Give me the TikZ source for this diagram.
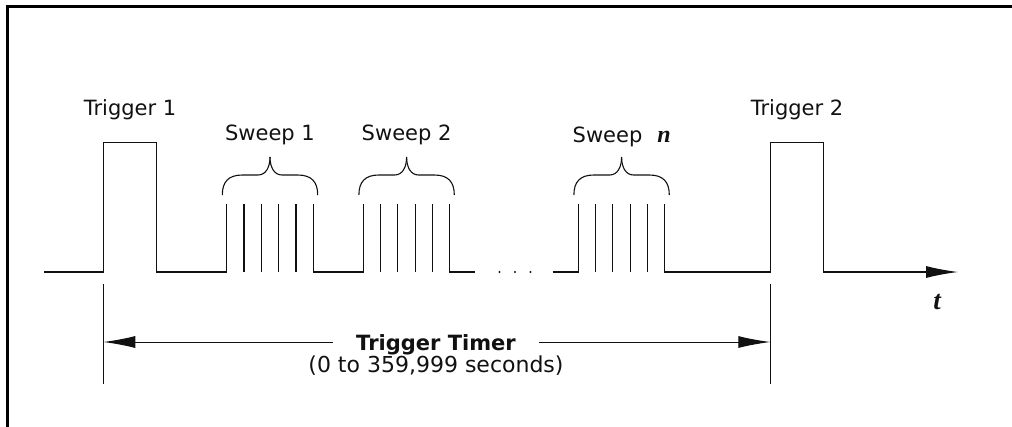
\documentclass[tikz,border=0pt]{standalone}
\usepackage{fontspec}
\setmainfont{DejaVu Sans}
\newfontfamily\lserif{Liberation Serif}
\usetikzlibrary{arrows.meta}
\definecolor{ink}{HTML}{111111}
\begin{document}
\begin{tikzpicture}[x=1pt,y=-1pt,
  sig/.style={line width=1.15pt, draw=ink, line join=miter},
  thin/.style={line width=1pt, draw=ink},
  brace/.style={line width=1.1pt, draw=ink},
  lbl/.style={font=\fontsize{21}{25}\selectfont, anchor=base, inner sep=0pt, text=ink},
  tipstyle/.style={-{Latex[length=32pt,width=12pt]}},
]
\useasboundingbox (0,0) rectangle (1012,426);
% frame
\draw[line width=3.4pt, draw=black] (7.3,430) -- (7.3,6.7) -- (1015,6.7);

% named points of the waveform
\coordinate (start) at (44,272);
\coordinate (T1a) at (103.3,272);
\coordinate (T1b) at (156.7,272);
\coordinate (T2a) at (770.3,272);
\coordinate (T2b) at (823.3,272);
\coordinate (axend) at (958,272);

% trigger 1 and sweeps
\draw[sig] (start) -- (T1a) -- (103.3,142.7) -- (156.7,142.7) -- (T1b) -- (226.7,272) -- (226.7,204);
\foreach \i in {1,...,4} \draw[sig] (226.7+\i*17.32,204) -- (226.7+\i*17.32,272);
\draw[sig] (313.3,204) -- (313.3,272) -- (363.3,272) -- (363.3,204);
\foreach \i in {1,...,4} \draw[sig] (363.3+\i*17.28,204) -- (363.3+\i*17.28,272);
\draw[sig] (449.7,204) -- (449.7,272) -- (475,272);
\foreach \x in {499.5,515,530.5} \fill[ink] (\x,272) circle (1.2pt);
\draw[sig] (552.7,272) -- (578.3,272) -- (578.3,204);
\foreach \i in {1,...,4} \draw[sig] (578.3+\i*17.28,204) -- (578.3+\i*17.28,272);
\draw[sig] (664.7,204) -- (664.7,272) -- (T2a) -- (770.3,142.7) -- (823.3,142.7) -- (T2b);
\draw[sig, tipstyle] (T2b) -- (axend);

% braces
\foreach \c in {270,406.6,621.6}{
  \def\w{47.7}
  \draw[brace] (\c-\w,195) .. controls (\c-\w,182) and (\c-\w+6,175) .. (\c-\w+20,175)
     -- (\c-12,175) .. controls (\c-4,175) and (\c,167) .. (\c,157);
  \draw[brace] (\c+\w,195) .. controls (\c+\w,182) and (\c+\w-6,175) .. (\c+\w-20,175)
     -- (\c+12,175) .. controls (\c+4,175) and (\c,167) .. (\c,157);
}

% labels
\node[lbl] (lt1) at (130,115) {Trigger 1};
\node[lbl] (lt2) at (797,115) {Trigger 2};
\node[lbl] (ls1) at (270,140) {Sweep 1};
\node[lbl] (ls2) at (406.6,140) {Sweep 2};
\node[lbl] (lsn) at (621.7,142) {Sweep\hspace{15pt}{\fontsize{24}{26}\selectfont\lserif\bfseries\itshape n}};
\node[lbl, font=\fontsize{27}{30}\selectfont\lserif\bfseries\itshape] (lt) at (937,309) {t};

% trigger timer dimension
\coordinate (d1top) at (103.3,284);
\coordinate (d1bot) at (103.3,384);
\coordinate (d2top) at (770.3,284);
\coordinate (d2bot) at (770.3,384);
\draw[thin] (d1top) -- (d1bot);
\draw[thin] (d2top) -- (d2bot);
\coordinate (dl) at (103.3,342);
\coordinate (dr) at (770.3,342);
\node[lbl, font=\fontsize{21}{25}\selectfont\bfseries] (tt) at (436,350) {Trigger Timer};
\node[lbl, font=\fontsize{22}{26}\selectfont] (range) at (436,372) {(0 to 359,999 seconds)};
\draw[thin, {Latex[length=32pt,width=12pt]}-] (dl) -- ([xshift=-23pt]tt.west |- dl);
\draw[thin, -{Latex[length=32pt,width=12pt]}] ([xshift=23pt]tt.east |- dr) -- (dr);
\end{tikzpicture}
\end{document}
